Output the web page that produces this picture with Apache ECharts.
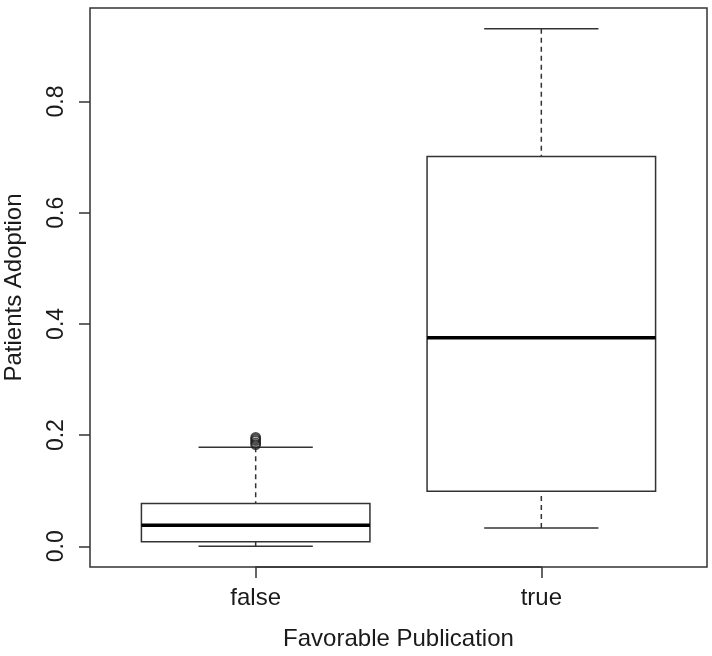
<!DOCTYPE html>
<html>
<head>
<meta charset="utf-8">
<script src="https://cdn.jsdelivr.net/npm/echarts@6/dist/echarts.min.js"></script>
<style>
html,body{margin:0;padding:0;background:#fff;}
#chart{width:712px;height:656px;}
</style>
</head>
<body>
<div id="chart"></div>
<script>
var categories = ['false', 'true'];
var lowerWhisker = [0.000, 0.033];
var q1 = [0.008, 0.099];
var median = [0.038, 0.375];
var q3 = [0.077, 0.701];
var upperWhisker = [0.178, 0.931];
var outliersFalse = [0.183, 0.186, 0.190, 0.193, 0.196];
var yTicks = [0, 0.2, 0.4, 0.6, 0.8];

var lineColor = '#333';
var textColor = '#1a1a1a';
var fontFamily = 'Liberation Sans, Arial, sans-serif';

// R-style x range: categories at 1..n, limits 0.5..n+0.5 extended by 4%
var xMin = 0.42, xMax = 2.58;
var plotLeft = 90, plotRight = 5, plotTop = 8, plotBottom = 89, chartW = 712;
var unitPx = (chartW - plotLeft - plotRight) / (xMax - xMin);
var tickGridLeft = plotLeft + (1 - xMin) * unitPx;
var tickGridRight = plotRight + (xMax - categories.length) * unitPx;

var boxData = categories.map(function (c, i) {
  return [i + 1, lowerWhisker[i], q1[i], median[i], q3[i], upperWhisker[i]];
});
var outlierData = outliersFalse.map(function (v) { return [1, v]; });

var chart = echarts.init(document.getElementById('chart'));
chart.setOption({
  animation: false,
  backgroundColor: '#fff',
  grid: [
    {
      left: plotLeft, right: plotRight, top: plotTop, bottom: plotBottom,
      outerBoundsMode: 'none', containLabel: false,
      show: true, borderColor: lineColor, borderWidth: 1.5, backgroundColor: 'transparent'
    },
    {
      left: tickGridLeft, right: tickGridRight, top: plotTop, bottom: plotBottom,
      outerBoundsMode: 'none', containLabel: false, show: false
    }
  ],
  xAxis: [
    {
      gridIndex: 0,
      type: 'value',
      min: xMin, max: xMax,
      axisLine: { show: false, onZero: false },
      splitLine: { show: false },
      axisTick: { show: false },
      axisLabel: { show: false }
    },
    {
      gridIndex: 1,
      type: 'value',
      min: 1, max: categories.length, interval: 1,
      position: 'bottom',
      name: 'Favorable Publication',
      nameLocation: 'middle',
      nameGap: 60,
      nameTextStyle: { fontSize: 24, color: textColor, fontFamily: fontFamily },
      axisLine: { show: true, onZero: false, lineStyle: { color: lineColor, width: 1.5 } },
      splitLine: { show: false },
      axisTick: { show: true, inside: false, length: 11, lineStyle: { color: lineColor, width: 1.5 } },
      axisLabel: {
        fontSize: 24, color: textColor, fontFamily: fontFamily, margin: 19,
        showMinLabel: true, showMaxLabel: true,
        formatter: function (v) { return categories[Math.round(v) - 1]; }
      }
    }
  ],
  yAxis: [
    {
      gridIndex: 0,
      type: 'value',
      min: -0.03724, max: 0.96824,
      name: 'Patients Adoption',
      nameLocation: 'middle',
      nameGap: 64,
      nameRotate: 90,
      nameTextStyle: { fontSize: 24, color: textColor, fontFamily: fontFamily },
      axisLine: { show: false, onZero: false },
      splitLine: { show: false },
      axisTick: { show: true, inside: false, length: 11, lineStyle: { color: lineColor, width: 1.5 }, customValues: yTicks },
      axisLabel: {
        fontSize: 23, color: textColor, fontFamily: fontFamily, margin: 22, rotate: 90,
        customValues: yTicks,
        formatter: function (v) { return v.toFixed(1); }
      }
    },
    {
      gridIndex: 1,
      type: 'value',
      show: false
    }
  ],
  series: [
    {
      type: 'custom',
      xAxisIndex: 0, yAxisIndex: 0,
      data: boxData,
      encode: { x: 0, y: [1, 2, 3, 4, 5] },
      renderItem: function (params, api) {
        var x = api.value(0);
        var lo = api.value(1), a = api.value(2), m = api.value(3), b = api.value(4), hi = api.value(5);
        var pL = api.coord([x - 0.4, b]);
        var pR = api.coord([x + 0.4, a]);
        var pm1 = api.coord([x - 0.4, m]);
        var pm2 = api.coord([x + 0.4, m]);
        var c = api.coord([x, hi]);
        var cq3 = api.coord([x, b]);
        var cq1 = api.coord([x, a]);
        var cl = api.coord([x, lo]);
        var capL = api.coord([x - 0.2, hi]);
        var capR = api.coord([x + 0.2, hi]);
        var capLl = api.coord([x - 0.2, lo]);
        var capRl = api.coord([x + 0.2, lo]);
        var thin = { stroke: lineColor, lineWidth: 1.5, fill: null };
        var dash = { stroke: lineColor, lineWidth: 1.5, lineDash: [5, 4], fill: null };
        return {
          type: 'group',
          children: [
            { type: 'line', shape: { x1: c[0], y1: c[1], x2: cq3[0], y2: cq3[1] }, style: dash },
            { type: 'line', shape: { x1: cl[0], y1: cl[1], x2: cq1[0], y2: cq1[1] }, style: dash },
            { type: 'line', shape: { x1: capL[0], y1: capL[1], x2: capR[0], y2: capR[1] }, style: thin },
            { type: 'line', shape: { x1: capLl[0], y1: capLl[1], x2: capRl[0], y2: capRl[1] }, style: thin },
            { type: 'rect', shape: { x: pL[0], y: pL[1], width: pR[0] - pL[0], height: pR[1] - pL[1] }, style: { stroke: lineColor, lineWidth: 1.5, fill: '#fff' } },
            { type: 'line', shape: { x1: pm1[0], y1: pm1[1], x2: pm2[0], y2: pm2[1] }, style: { stroke: '#000', lineWidth: 3.5 } }
          ]
        };
      }
    },
    {
      type: 'scatter',
      xAxisIndex: 0, yAxisIndex: 0,
      data: outlierData,
      symbol: 'circle',
      symbolSize: 9,
      itemStyle: { color: 'rgba(255,255,255,0)', borderColor: '#222', borderWidth: 1.8 }
    }
  ]
});
</script>
</body>
</html>
